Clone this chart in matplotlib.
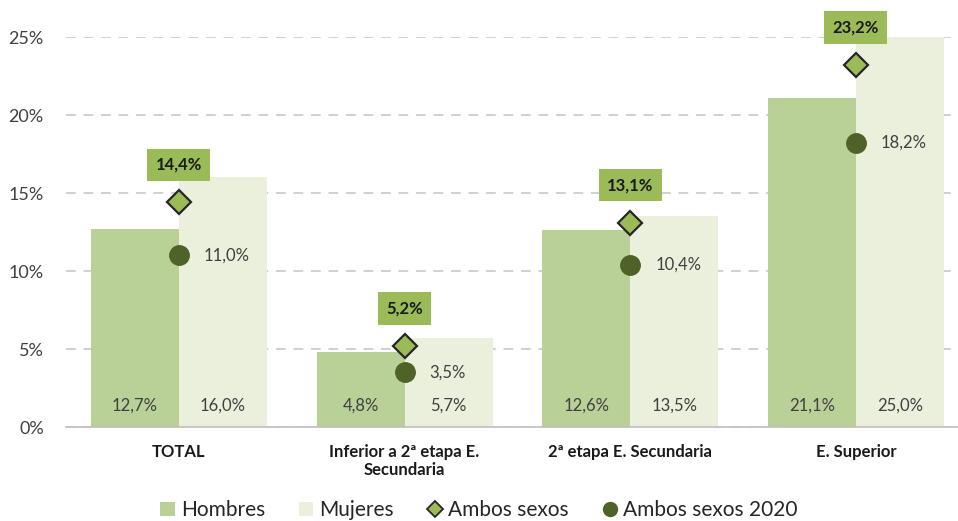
import numpy as np
import matplotlib
matplotlib.use("Agg")
from matplotlib import pyplot as plt
from matplotlib.lines import Line2D
from matplotlib.patches import Patch

plt.rcParams['font.family'] = ['Lato', 'DejaVu Sans']

# data
categorias = ["TOTAL", "Inferior a 2ª etapa E.\nSecundaria", "2ª etapa E. Secundaria", "E. Superior"]
hombres = [12.7, 4.8, 12.6, 21.1]
mujeres = [16.0, 5.7, 13.5, 25.0]
ambos = [14.4, 5.2, 13.1, 23.2]
ambos_2020 = [11.0, 3.5, 10.4, 18.2]

c_hom = "#b9d197"
c_muj = "#ebf0dd"
c_amb = "#9bbb59"
c_2020 = "#4f6228"
c_txt = "#404040"

def pct(v):
    return f"{v:.1f}%".replace(".", ",")

fig = plt.figure(figsize=(9.58, 5.21), dpi=100)
ax = fig.add_axes([66/958, 94/521, (958-66)/958, 390/521])

x = np.arange(len(categorias))
w = 0.39
ax.bar(x - w/2, hombres, w, color=c_hom, zorder=2)
ax.bar(x + w/2, mujeres, w, color=c_muj, zorder=2)
ax.plot(x, ambos, linestyle="none", marker="D", markersize=12, markerfacecolor=c_amb,
        markeredgecolor="#262626", markeredgewidth=1.6, zorder=4)
ax.plot(x, ambos_2020, linestyle="none", marker="o", markersize=14, color=c_2020, zorder=4)

for i in range(len(x)):
    ax.text(x[i] - w/2, 1.4, pct(hombres[i]), ha="center", va="center", fontsize=12, color=c_txt, zorder=5)
    ax.text(x[i] + w/2, 1.4, pct(mujeres[i]), ha="center", va="center", fontsize=12, color=c_txt, zorder=5)
    ax.annotate(pct(ambos_2020[i]), (x[i], ambos_2020[i]), xytext=(18, 0), textcoords="offset points",
                ha="left", va="center", fontsize=12, color=c_txt, zorder=5)
    ax.annotate(pct(ambos[i]), (x[i], ambos[i]), xytext=(0, 27), textcoords="offset points",
                ha="center", va="center", fontsize=12, fontweight="bold", color="#1a1a1a",
                bbox=dict(boxstyle="square,pad=0.5", facecolor=c_amb, edgecolor="none"),
                annotation_clip=False, zorder=6)

ax.set_xlim(-0.5, -0.5 + (958-66)/225.7)
ax.set_ylim(0, 25)
ax.set_yticks([0, 5, 10, 15, 20, 25])
ax.set_yticklabels(["0%", "5%", "10%", "15%", "20%", "25%"], fontsize=13, color=c_txt)
ax.set_xticks(x)
ax.set_xticklabels(categorias, fontsize=12, fontweight="bold", color="#1a1a1a")
ax.tick_params(axis="x", length=0, pad=12)
ax.tick_params(axis="y", length=0, pad=16)
ax.grid(axis="y", color="#d0d0d0", linestyle=(0, (5, 4)), linewidth=1.4, zorder=0)
ax.set_axisbelow(True)
for s in ["top", "right", "left"]:
    ax.spines[s].set_visible(False)
ax.spines["bottom"].set_color("#bfbfbf")
ax.spines["bottom"].set_linewidth(1.2)

handles = [
    Patch(facecolor=c_hom, label="Hombres"),
    Patch(facecolor=c_muj, label="Mujeres"),
    Line2D([], [], linestyle="none", marker="D", markersize=8, markerfacecolor=c_amb,
           markeredgecolor="#262626", markeredgewidth=1.3, label="Ambos sexos"),
    Line2D([], [], linestyle="none", marker="o", markersize=10, color=c_2020, label="Ambos sexos 2020"),
]
fig.legend(handles=handles, loc="lower center", bbox_to_anchor=(0.5, -0.035), ncol=4, frameon=False,
           fontsize=15, handlelength=0.7, handleheight=0.7, handletextpad=0.3, columnspacing=1.6,
           labelcolor="#262626")

fig.savefig("out.png", dpi=100)
